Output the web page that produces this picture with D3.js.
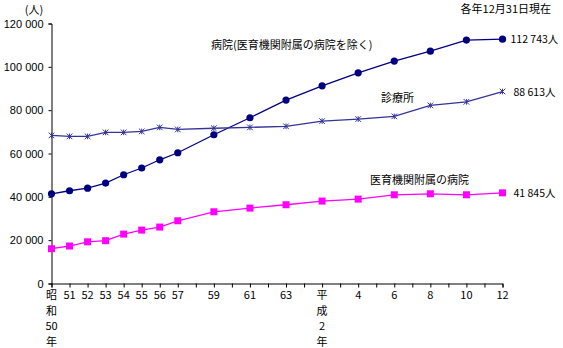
<!DOCTYPE html>
<html lang="ja">
<head>
<meta charset="utf-8">
<script src="https://cdn.jsdelivr.net/npm/d3@7"></script>
<style>
  html, body { margin: 0; padding: 0; background: #fff; }
  svg { display: block; font-family: "Noto Sans CJK JP", "DejaVu Sans", sans-serif; }
  text { fill: #000; }
</style>
</head>
<body>
<svg id="chart" width="563" height="348"></svg>
<script>
// 西暦の年（昭和50年〜平成12年）と、データのある年
const years = d3.range(1975, 2001);
const dataYears = [1975, 1976, 1977, 1978, 1979, 1980, 1981, 1982,
                   1984, 1986, 1988, 1990, 1992, 1994, 1996, 1998, 2000];

// 目盛りラベル（和暦）
const xTickLabels = {
  1975: ["昭", "和", "50", "年"], 1976: ["51"], 1977: ["52"], 1978: ["53"],
  1979: ["54"], 1980: ["55"], 1981: ["56"], 1982: ["57"], 1984: ["59"],
  1986: ["61"], 1988: ["63"], 1990: ["平", "成", "2", "年"], 1992: ["4"],
  1994: ["6"], 1996: ["8"], 1998: ["10"], 2000: ["12"]
};
const yTicks = [0, 20000, 40000, 60000, 80000, 100000, 120000];

// 施設の種別ごとの人数
const hospital = [41400, 42800, 44000, 46350, 50200, 53300, 57100, 60350,
                  68650, 76500, 84650, 91250, 97250, 102650, 107250, 112350, 112743];
const clinic = [68350, 67900, 67900, 69750, 69750, 70200, 72050, 71100,
                71650, 72050, 72550, 74950, 75900, 77150, 82200, 83850, 88613];
const university = [16050, 17300, 19250, 19750, 22800, 24650, 26050, 28950,
                    33100, 34800, 36350, 38050, 38950, 40950, 41400, 40950, 41845];

const seriesNames = ["病院(医育機関附属の病院を除く)", "診療所", "医育機関附属の病院"];
const endLabels = ["112 743人", "88 613人", "41 845人"];

const svg = d3.select("#chart");
const fontSize = 11;

const x = d3.scaleLinear().domain([1975, 2000]).range([51.5, 502.5]);
const y = d3.scaleLinear().domain([0, 120000]).range([283.5, 23.5]);

const fmt = v => d3.format(",")(v).replace(/,/g, " ");

// 縦軸
const yAxis = svg.append("g").attr("transform", `translate(${x.range()[0]},0)`)
  .call(d3.axisLeft(y).tickValues(yTicks).tickSize(3).tickPadding(5).tickFormat(fmt));
yAxis.select(".domain").attr("stroke", "#000");
yAxis.selectAll(".tick line").attr("stroke", "#000");
yAxis.selectAll(".tick text").attr("font-size", fontSize).attr("font-family", null).attr("fill", "#000");

// 横軸
const xAxis = svg.append("g").attr("transform", `translate(0,${y(0)})`)
  .call(d3.axisBottom(x).tickValues(years).tickSize(4).tickFormat(""));
xAxis.select(".domain").attr("stroke", "#000");
xAxis.selectAll(".tick line").attr("stroke", "#000");

const xl = svg.append("g").attr("font-size", fontSize).attr("text-anchor", "middle");
Object.entries(xTickLabels).forEach(([yr, parts]) => {
  parts.forEach((p, i) => {
    xl.append("text").attr("x", x(+yr)).attr("y", 299 + i * 15.5).text(p);
  });
});

// 単位と注記
svg.append("text").attr("x", 34).attr("y", 14).attr("font-size", fontSize)
  .attr("text-anchor", "middle").text("(人)");
svg.append("text").attr("x", 551).attr("y", 13).attr("font-size", fontSize)
  .attr("text-anchor", "end").text("各年12月31日現在");

const line = d3.line().x(d => x(d[0])).y(d => y(d[1]));

const series = [
  { values: hospital, color: "#000080", marker: "circle", labelDx: 8 },
  { values: clinic, color: "#333399", marker: "star", labelDx: 11 },
  { values: university, color: "#FF00FF", marker: "square", labelDx: 11 }
];

series.forEach((s, si) => {
  const pts = dataYears.map((yr, i) => [yr, s.values[i]]);
  svg.append("path").datum(pts).attr("d", line)
    .attr("fill", "none").attr("stroke", s.color).attr("stroke-width", 1.3);

  const g = svg.append("g");
  pts.forEach(p => {
    const cx = x(p[0]), cy = y(p[1]);
    if (s.marker === "circle") {
      g.append("circle").attr("cx", cx).attr("cy", cy).attr("r", 3.6).attr("fill", s.color);
    } else if (s.marker === "square") {
      g.append("rect").attr("x", cx - 3.5).attr("y", cy - 3.5)
        .attr("width", 7).attr("height", 7).attr("fill", s.color);
    } else {
      const r = 2.8;
      g.append("path")
        .attr("d", `M${cx - r},${cy - r}L${cx + r},${cy + r}M${cx - r},${cy + r}L${cx + r},${cy - r}M${cx},${cy - r}L${cx},${cy + r}`)
        .attr("stroke", s.color).attr("stroke-width", 1).attr("fill", "none");
    }
  });

  // 最終年の人数
  const last = pts[pts.length - 1];
  svg.append("text").attr("x", x(last[0]) + s.labelDx).attr("y", y(last[1]) + 4)
    .attr("font-size", 10.5).text(endLabels[si]);
});

// 系列名
const nameLabels = [
  { text: seriesNames[0], x: 211, y: 49 },
  { text: seriesNames[1], x: 381, y: 102 },
  { text: seriesNames[2], x: 370, y: 184 }
];
svg.append("g").selectAll("text").data(nameLabels).join("text")
  .attr("x", d => d.x).attr("y", d => d.y).attr("font-size", fontSize)
  .text(d => d.text);
</script>
</body>
</html>
